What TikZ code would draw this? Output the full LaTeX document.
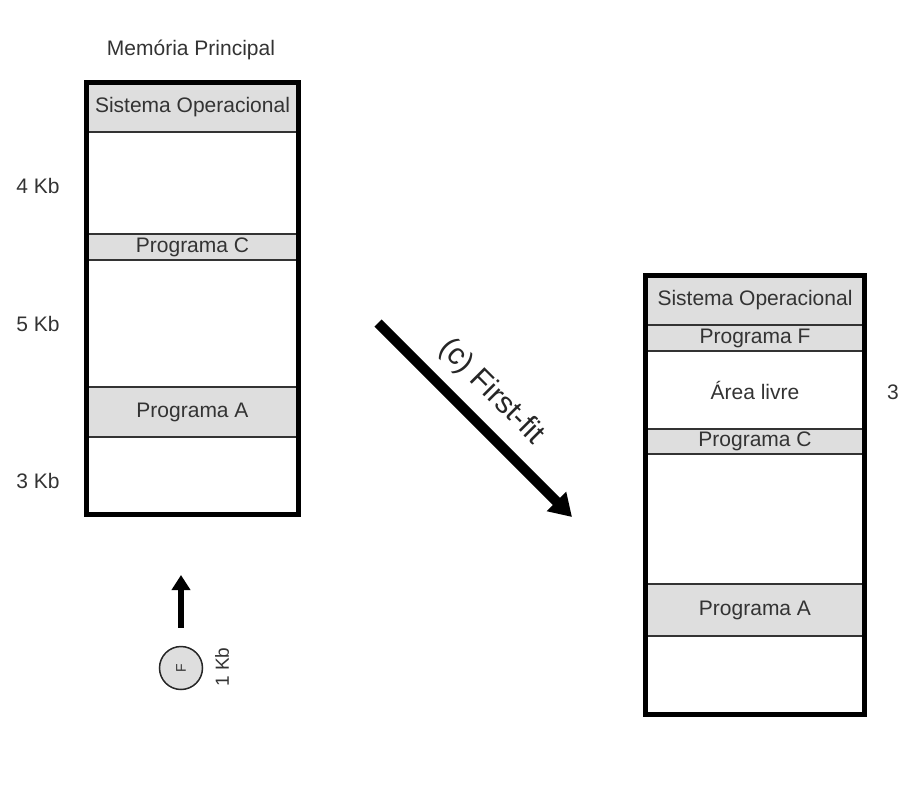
\documentclass[tikz,border=0pt]{standalone}
\usepackage{fontspec}
\setmainfont{Liberation Sans}
\usetikzlibrary{positioning, arrows.meta}
\tikzstyle{segment} = [rectangle, draw=black!80, line width=1.5pt, outer sep=0pt, inner sep=0pt, text centered, text=black!80, font=\fontsize{21}{25}\selectfont]
\tikzstyle{program} = [segment, fill=black!13]
\tikzstyle{memframe} = [rectangle, draw=black, line width=5pt, outer sep=0pt]
\tikzstyle{size} = [text=black!80, font=\fontsize{21}{25}\selectfont]
\tikzstyle{bigarrow} = [line width=10pt, -{Triangle[width=26pt,length=22pt]}]
\tikzstyle{uparrow} = [line width=6pt, -{Triangle[width=18pt,length=15pt]}]

\begin{document}
\begin{tikzpicture}[x=1pt, y=-1pt]
\useasboundingbox (0,0) rectangle (900,800);

% memoria principal (antes)
\node (title) [size] at (191,50) {Memória Principal};
\node (so1) [program, anchor=north, minimum width=212pt, minimum height=49.5pt] at (192.5,82.5) {Sistema Operacional};
\node (free4) [segment, below=0pt of so1, minimum width=212pt, minimum height=102pt] {};
\node (c1) [program, below=0pt of free4, minimum width=212pt, minimum height=26pt] {Programa C};
\node (free5) [segment, below=0pt of c1, minimum width=212pt, minimum height=127pt] {};
\node (a1) [program, below=0pt of free5, minimum width=212pt, minimum height=50pt] {Programa A};
\node (free3) [segment, below=0pt of a1, minimum width=212pt, minimum height=77.5pt] {};
\node (leftmem) [memframe, minimum width=212pt, minimum height=432pt] at (192.5,298.5) {};

\node (k4) [size] at (38,186) {4 Kb};
\node (k5) [size] at (38,324) {5 Kb};
\node (k3) [size] at (38,481) {3 Kb};

% programa F
\node (fproc) [circle, draw=black!85, line width=1.5pt, fill=black!13, minimum size=43pt, inner sep=0pt, rotate=90, text=black!80, font=\fontsize{14}{14}\selectfont] at (181,668) {F};
\node (fsize) [size, rotate=90, font=\fontsize{19}{19}\selectfont] at (222,667) {1 Kb};
\coordinate (fin) at (181,575);
\draw [uparrow, shorten <=18pt] (fproc.east) -- (fin);

% first-fit
\coordinate (fitstart) at (378,323);
\coordinate (fitend) at (572,517);
\draw [bigarrow] (fitstart) -- node[sloped, above=9pt, pos=0.47, text=black!85, font=\fontsize{30}{30}\selectfont]{(c) First-fit} (fitend);

% memoria principal (depois)
\node (so2) [program, anchor=north, minimum width=219pt, minimum height=49.5pt] at (755,275.5) {Sistema Operacional};
\node (f2) [program, below=0pt of so2, minimum width=219pt, minimum height=26pt] {Programa F};
\node (livre) [segment, below=0pt of f2, minimum width=219pt, minimum height=78pt] {Área livre};
\node (c2) [program, below=0pt of livre, minimum width=219pt, minimum height=25pt] {Programa C};
\node (free2) [segment, below=0pt of c2, minimum width=219pt, minimum height=130pt] {};
\node (a2) [program, below=0pt of free2, minimum width=219pt, minimum height=52pt] {Programa A};
\node (end2) [segment, below=0pt of a2, minimum width=219pt, minimum height=78.5pt] {};
\node (rightmem) [memframe, minimum width=219pt, minimum height=439pt] at (755,495) {};

\node (k3r) [size] at (893,392) {3};

\end{tikzpicture}
\end{document}
